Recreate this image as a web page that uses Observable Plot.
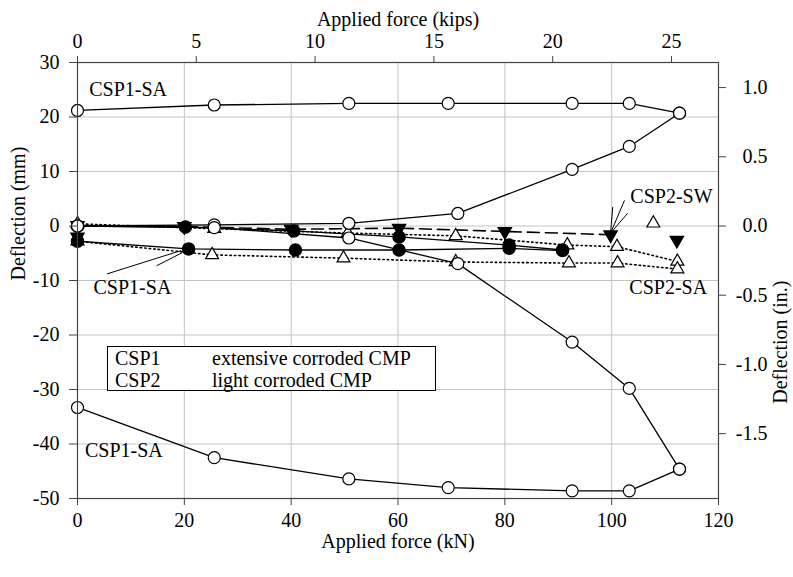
<!DOCTYPE html>
<html><head><meta charset="utf-8">
<script src="https://cdn.jsdelivr.net/npm/d3@7"></script>
<script src="https://cdn.jsdelivr.net/npm/@observablehq/plot@0.6"></script>
<style>
html,body{margin:0;padding:0;background:#fff;}
#wrap{position:relative;width:793px;height:577px;font-family:"Liberation Serif","Times New Roman",Times,"DejaVu Serif",serif;}
#wrap svg, #wrap svg text{font-family:"Liberation Serif","Times New Roman",Times,"DejaVu Serif",serif !important;}
#legend{position:absolute;left:107px;top:346px;width:327px;height:43px;border:1px solid #000;background:#fff;font-size:20px;line-height:22px;color:#000;}
#legend div{position:absolute;white-space:nowrap;}
</style></head><body><div id="wrap"></div>
<script>
// ---- axis ticks ----
const KN_PER_KIP = 4.44822;
const MM_PER_IN = 25.4;
const forceTicksKN = [0, 20, 40, 60, 80, 100, 120];
const forceTicksKips = [0, 5, 10, 15, 20, 25];
const deflTicksMM = [30, 20, 10, 0, -10, -20, -30, -40, -50];
const deflTicksIn = [1.0, 0.5, 0.0, -0.5, -1.0, -1.5];

// ---- CSP1 (circles) ----
const csp1TopForce = [0, 25.6, 50.8, 69.4, 92.6, 103.3, 112.7];
const csp1TopDefl = [21.2, 22.2, 22.5, 22.5, 22.5, 22.5, 20.7];
const csp1BotForce = [0, 25.6, 50.8, 69.4, 92.6, 103.3, 112.7];
const csp1BotDefl = [-33.3, -42.5, -46.4, -48.0, -48.6, -48.6, -44.6];
const csp1RiseForce = [0, 25.6, 50.8, 71.2, 92.6, 103.3, 112.7];
const csp1RiseDefl = [0, 0.2, 0.5, 2.3, 10.4, 14.6, 20.7];
const csp1FallForce = [0, 25.6, 50.8, 71.2, 92.6, 103.3, 112.7];
const csp1FallDefl = [0, -0.3, -2.2, -6.9, -21.3, -29.8, -44.6];
const csp1SwForce = [0, 20.2, 40.5, 60.2, 80.8, 90.8];
const csp1SwDefl = [0, -0.2, -0.9, -2.0, -3.5, -4.4];
const csp1SaForce = [0, 20.8, 40.8, 60.2, 80.8, 90.8];
const csp1SaDefl = [-2.8, -4.2, -4.4, -4.4, -4.1, -4.5];

// ---- CSP2 (triangles) ----
const csp2SwForce = [0, 20, 40, 60.2, 80, 99.8];
const csp2SwDefl = [0.1, -0.1, -0.6, -0.4, -1.0, -1.6];
const csp2SwLooseForce = [0, 112.2];
const csp2SwLooseDefl = [-2.0, -2.6];
const csp2SaAForce = [0, 25.6, 50.6, 70.8, 91.7, 101, 112.3];
const csp2SaADefl = [0.4, -0.5, -1.3, -1.8, -3.5, -3.8, -6.5];
const csp2SaBForce = [0, 25.2, 49.8, 70.8, 92, 101.1, 112.3];
const csp2SaBDefl = [-2.8, -5.3, -5.9, -6.6, -6.8, -6.8, -7.9];
const csp2SaLooseForce = [107.8];
const csp2SaLooseDefl = [0.5];

// ---- annotations ----
const labelText = ["CSP1-SA", "CSP1-SA", "CSP1-SA", "CSP2-SW", "CSP2-SA"];
const labelForce = [2.2, 3.0, 1.4, 103.5, 103.3];
const labelDefl = [25, -11.3, -41.3, 5.4, -11.3];
const leaderFromForce = [5.5, 14.8, 100.2, 102.4, 103.0];
const leaderFromDefl = [-8.8, -7.3, 3.5, 4.7, 2.35];
const leaderToForce = [19.4, 19.6, 99.8, 99.8, 99.8];
const leaderToDefl = [-4.5, -4.9, -1.3, -1.3, -1.3];

const legendCodes = ["CSP1", "CSP2"];
const legendDescs = ["extensive corroded CMP", "light corroded CMP"];

// ---- build ----
const serif = "'Liberation Serif', 'Times New Roman', Times, 'DejaVu Serif', serif";
const pts = (xs, ys) => xs.map((x, i) => ({x, y: ys[i]}));
const openCircle = [pts(csp1TopForce, csp1TopDefl), pts(csp1BotForce, csp1BotDefl), pts(csp1RiseForce, csp1RiseDefl), pts(csp1FallForce, csp1FallDefl)];
const filledCircle = [pts(csp1SwForce, csp1SwDefl), pts(csp1SaForce, csp1SaDefl)];
const dashedDown = pts(csp2SwForce, csp2SwDefl);
const looseDown = pts(csp2SwLooseForce, csp2SwLooseDefl);
const dottedUp = [pts(csp2SaAForce, csp2SaADefl), pts(csp2SaBForce, csp2SaBDefl)];
const looseUp = pts(csp2SaLooseForce, csp2SaLooseDefl);
const labels = labelText.map((t, i) => ({t, x: labelForce[i], y: labelDefl[i]}));
const leaders = leaderFromForce.map((x1, i) => ({x1, y1: leaderFromDefl[i], x2: leaderToForce[i], y2: leaderToDefl[i]}));

const gridColor = "#c4c4c4";
const fs = 20;
const marks = [
  Plot.gridX(forceTicksKN.slice(1, -1), {stroke: gridColor, strokeOpacity: 1}),
  Plot.gridY(deflTicksMM.slice(1, -1), {stroke: gridColor, strokeOpacity: 1}),
];
for (const s of openCircle) marks.push(Plot.line(s, {x: "x", y: "y", stroke: "#000", strokeWidth: 1.3}));
for (const s of filledCircle) marks.push(Plot.line(s, {x: "x", y: "y", stroke: "#000", strokeWidth: 1.3}));
marks.push(Plot.line(dashedDown, {x: "x", y: "y", stroke: "#000", strokeWidth: 1.6, strokeDasharray: "12,6"}));
for (const s of dottedUp) marks.push(Plot.line(s, {x: "x", y: "y", stroke: "#000", strokeWidth: 1.6, strokeDasharray: "1.5,3"}));
for (const s of dottedUp) marks.push(Plot.dot(s, {x: "x", y: "y", symbol: "triangle", r: 4.8, fill: "#fff", stroke: "#000", strokeWidth: 1.2}));
marks.push(Plot.dot(looseUp, {x: "x", y: "y", symbol: "triangle", r: 4.8, fill: "#fff", stroke: "#000", strokeWidth: 1.2}));
for (const s of filledCircle) marks.push(Plot.dot(s, {x: "x", y: "y", r: 6, fill: "#000", stroke: "#000"}));
marks.push(Plot.dot(dashedDown, {x: "x", y: "y", symbol: "triangle", rotate: 180, r: 4.8, fill: "#000", stroke: "#000"}));
marks.push(Plot.dot(looseDown, {x: "x", y: "y", symbol: "triangle", rotate: 180, r: 4.8, fill: "#000", stroke: "#000"}));
for (const s of openCircle) marks.push(Plot.dot(s, {x: "x", y: "y", r: 6, fill: "#fff", stroke: "#000", strokeWidth: 1.2}));
marks.push(
  Plot.link(leaders, {x1: "x1", y1: "y1", x2: "x2", y2: "y2", stroke: "#000", strokeWidth: 1}),
  Plot.text(labels, {x: "x", y: "y", text: "t", textAnchor: "start", lineAnchor: "middle", fontSize: fs, fontFamily: serif, fill: "#000"}),
  Plot.frame({stroke: "#444", strokeWidth: 1.2}),
  Plot.axisX(forceTicksKN, {anchor: "bottom", tickSize: 7, tickPadding: 7, fontSize: fs, fontFamily: serif, stroke: "#444", tickFormat: d => String(d), label: null}),
  Plot.axisX(forceTicksKips.map(k => k * KN_PER_KIP), {anchor: "top", tickSize: 7, tickPadding: 8, fontSize: fs, fontFamily: serif, stroke: "#444", tickFormat: d => String(Math.round(d / KN_PER_KIP)), label: null}),
  Plot.axisY(deflTicksMM, {anchor: "left", tickSize: 8, tickPadding: 10, fontSize: fs, fontFamily: serif, stroke: "#444", tickFormat: d => String(d), label: null}),
  Plot.axisY(deflTicksIn.map(v => v * MM_PER_IN), {anchor: "right", tickSize: 7, tickPadding: 42, textAnchor: "end", fontSize: fs, fontFamily: serif, stroke: "#444", tickFormat: d => (d / MM_PER_IN).toFixed(1), label: null}),
  Plot.text(["Applied force (kN)"], {frameAnchor: "bottom", dy: 49, text: d => d, fontSize: fs, fontFamily: serif, fill: "#000"}),
  Plot.text(["Applied force (kips)"], {frameAnchor: "top", dy: -51, text: d => d, fontSize: fs, fontFamily: serif, fill: "#000"}),
  Plot.text(["Deflection (mm)"], {frameAnchor: "left", dx: -59, rotate: -90, text: d => d, fontSize: fs, fontFamily: serif, fill: "#000"}),
  Plot.text(["Deflection (in.)"], {frameAnchor: "right", dx: 62, rotate: -90, text: d => d, fontSize: fs, fontFamily: serif, fill: "#000"})
);

const chart = Plot.plot({
  width: 793, height: 577,
  marginLeft: 77, marginRight: 75, marginTop: 62, marginBottom: 79,
  x: {domain: [0, 120], label: null},
  y: {domain: [-50, 30], label: null},
  style: {fontFamily: serif, fontSize: "20px", background: "#fff", color: "#000"},
  marks
});
const wrap = document.getElementById("wrap");
wrap.appendChild(chart);

const legend = document.createElement("div");
legend.id = "legend";
legendCodes.forEach((c, i) => {
  const a = document.createElement("div");
  a.textContent = c; a.style.left = "7px"; a.style.top = (i * 22) + "px";
  const b = document.createElement("div");
  b.textContent = legendDescs[i]; b.style.left = "104px"; b.style.top = (i * 22) + "px";
  legend.appendChild(a); legend.appendChild(b);
});
wrap.appendChild(legend);
</script></body></html>
